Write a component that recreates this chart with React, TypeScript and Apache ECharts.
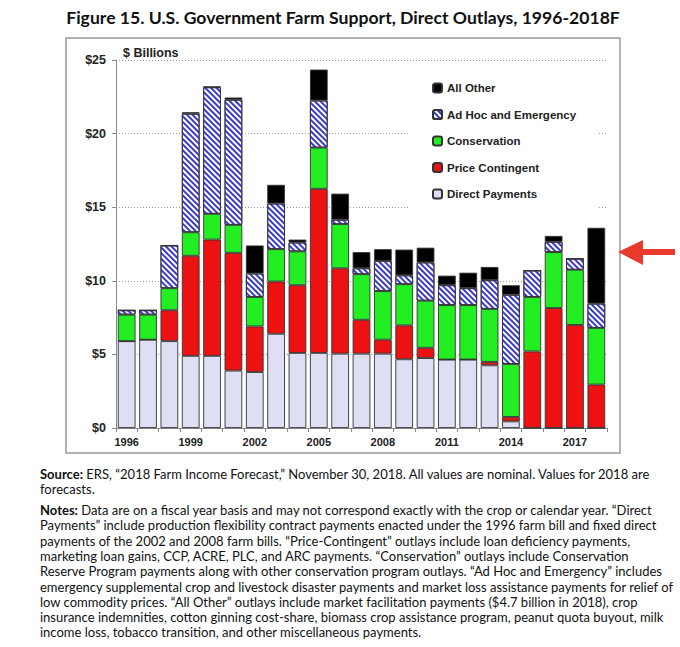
import React, { useEffect, useRef } from "react";
import * as echarts from "echarts";

const years = ["1996","1997","1998","1999","2000","2001","2002","2003","2004","2005","2006","2007","2008","2009","2010","2011","2012","2013","2014","2015","2016","2017","2018"];
const directPayments = [5.9,6.0,5.9,4.9,4.9,3.9,3.8,6.4,5.1,5.1,5.05,5.05,5.05,4.67,4.75,4.65,4.65,4.26,0.45,0,0,0,0];
const priceContingent = [0,0,2.1,6.8,7.9,8.0,3.1,3.55,4.6,11.15,5.8,2.3,0.95,2.3,0.7,0,0,0.23,0.3,5.2,8.15,7.0,2.95];
const conservation = [1.8,1.7,1.5,1.6,1.75,1.9,2.0,2.2,2.3,2.8,3.0,3.1,3.3,2.8,3.2,3.7,3.7,3.6,3.6,3.7,3.8,3.75,3.85];
const adHoc = [0.3,0.3,2.9,8.05,8.6,8.5,1.6,3.1,0.6,3.2,0.3,0.4,2.05,0.6,2.6,1.35,1.15,1.95,4.7,1.8,0.7,0.75,1.65];
const allOther = [0,0,0,0.1,0.05,0.15,1.9,1.27,0.2,2.1,1.77,1.1,0.8,1.75,1.0,0.65,1.05,0.9,0.65,0,0.4,0,5.15];

const titleText = "Figure 15. U.S. Government Farm Support, Direct Outlays, 1996-2018F";
const sourceLines = [
  "{b|Source:} ERS, “2018 Farm Income Forecast,” November 30, 2018. All values are nominal. Values for 2018 are",
  "forecasts.",
];
const notesLines = [
  "{b|Notes:} Data are on a fiscal year basis and may not correspond exactly with the crop or calendar year. “Direct",
  "Payments” include production flexibility contract payments enacted under the 1996 farm bill and fixed direct",
  "payments of the 2002 and 2008 farm bills. “Price-Contingent” outlays include loan deficiency payments,",
  "marketing loan gains, CCP, ACRE, PLC, and ARC payments. “Conservation” outlays include Conservation",
  "Reserve Program payments along with other conservation program outlays. “Ad Hoc and Emergency” includes",
  "emergency supplemental crop and livestock disaster payments and market loss assistance payments for relief of",
  "low commodity prices. “All Other” outlays include market facilitation payments ($4.7 billion in 2018), crop",
  "insurance indemnities, cotton ginning cost-share, biomass crop assistance program, peanut quota buyout, milk",
  "income loss, tobacco transition, and other miscellaneous payments.",
];

const SANS = "'Liberation Sans', Arial, sans-serif";
const NOTE_FONT = "Lato, 'Open Sans', sans-serif";

export default function App() {
  const ref = useRef<HTMLDivElement>(null);
  useEffect(() => {
    if (!ref.current) return;
    const chart = echarts.init(ref.current, undefined, { renderer: "svg" });
    const border = { borderColor: "#333", borderWidth: 0.9 };
    const mk = (name: string, data: number[], itemStyle: any) => ({
      name,
      type: "bar",
      stack: "total",
      data,
      barCategoryGap: "17%",
      itemStyle: { ...border, ...itemStyle },
      emphasis: { disabled: true },
    });
    const noteTexts: any[] = [];
    const addLine = (t: string, y: number) => {
      noteTexts.push({
        type: "text",
        x: 40,
        y,
        style: {
          text: t,
          font: `13px ${NOTE_FONT}`,
          fill: "#111",
          verticalAlign: "middle",
          rich: { b: { fontWeight: "bold", fontSize: 13, fontFamily: NOTE_FONT, fill: "#111" } },
        },
      });
    };
    sourceLines.forEach((t, i) => addLine(t, 474 + i * 14.6));
    notesLines.forEach((t, i) => addLine(t, 510 + i * 15.3));
    chart.setOption({
      animation: false,
      backgroundColor: "#fff",
      grid: { left: 116, right: 73, top: 60, bottom: 219 },
      legend: {
        orient: "vertical",
        left: 410,
        top: 72,
        padding: [10, 23, 8, 22],
        backgroundColor: "#fff",
        itemWidth: 9,
        itemHeight: 9,
        itemGap: 14.5,
        data: ["All Other", "Ad Hoc and Emergency", "Conservation", "Price Contingent", "Direct Payments"],
        textStyle: { fontFamily: SANS, fontWeight: "bold", fontSize: 11.5, color: "#222" },
      },
      xAxis: {
        type: "category",
        data: years,
        axisLine: { lineStyle: { color: "#888", width: 1 } },
        axisTick: { show: true, interval: 0, length: 4, lineStyle: { color: "#888" } },
        axisLabel: {
          interval: 2,
          margin: 8,
          fontFamily: SANS,
          fontWeight: "bold",
          fontSize: 11,
          color: "#222",
        },
      },
      yAxis: {
        type: "value",
        min: 0,
        max: 25,
        interval: 5,
        axisLine: { show: true, lineStyle: { color: "#888", width: 1 } },
        axisTick: { show: true, length: 4, lineStyle: { color: "#888" } },
        axisLabel: {
          formatter: (v: number) => "$" + v,
          margin: 10,
          fontFamily: SANS,
          fontWeight: "bold",
          fontSize: 12.5,
          color: "#222",
        },
        splitLine: { show: true, lineStyle: { color: "#999", type: [1, 2], width: 1 } },
      },
      series: [
        mk("Direct Payments", directPayments, { color: "#dedef5" }),
        mk("Price Contingent", priceContingent, { color: "#ee1111" }),
        mk("Conservation", conservation, { color: "#22ee22" }),
        mk("Ad Hoc and Emergency", adHoc, {
          color: "#ffffff",
          decal: {
            symbol: "rect",
            symbolSize: 1,
            dashArrayX: [1, 0],
            dashArrayY: [1.6, 1.4],
            rotation: Math.PI / 4,
            color: "#3a3ac8",
          },
        }),
        mk("All Other", allOther, { color: "#000000" }),
      ],
      graphic: [
        {
          type: "rect",
          shape: { x: 66, y: 38, width: 554, height: 415 },
          style: { fill: "none", stroke: "#999", lineWidth: 1.5 },
          silent: true,
          z: -1,
        },
        {
          type: "text",
          x: 343,
          y: 17,
          style: {
            text: titleText,
            font: `bold 17.6px Lato, 'Open Sans', sans-serif`,
            fill: "#111",
            align: "center",
            verticalAlign: "middle",
          },
        },
        {
          type: "text",
          x: 123,
          y: 53,
          style: {
            text: "$ Billions",
            font: `bold 12.5px ${SANS}`,
            fill: "#222",
            align: "left",
            verticalAlign: "middle",
          },
        },
        {
          type: "polygon",
          shape: { points: [[618, 252], [643, 240], [643, 265]] },
          style: { fill: "#ea3a2c" },
        },
        {
          type: "line",
          shape: { x1: 641, y1: 252, x2: 675, y2: 252 },
          style: { stroke: "#ea3a2c", lineWidth: 6 },
        },
        ...noteTexts,
      ],
    });
    return () => chart.dispose();
  }, []);
  return (
    <div
      ref={ref}
      style={{ position: "fixed", left: 0, top: 0, width: 680, height: 647 }}
    />
  );
}
